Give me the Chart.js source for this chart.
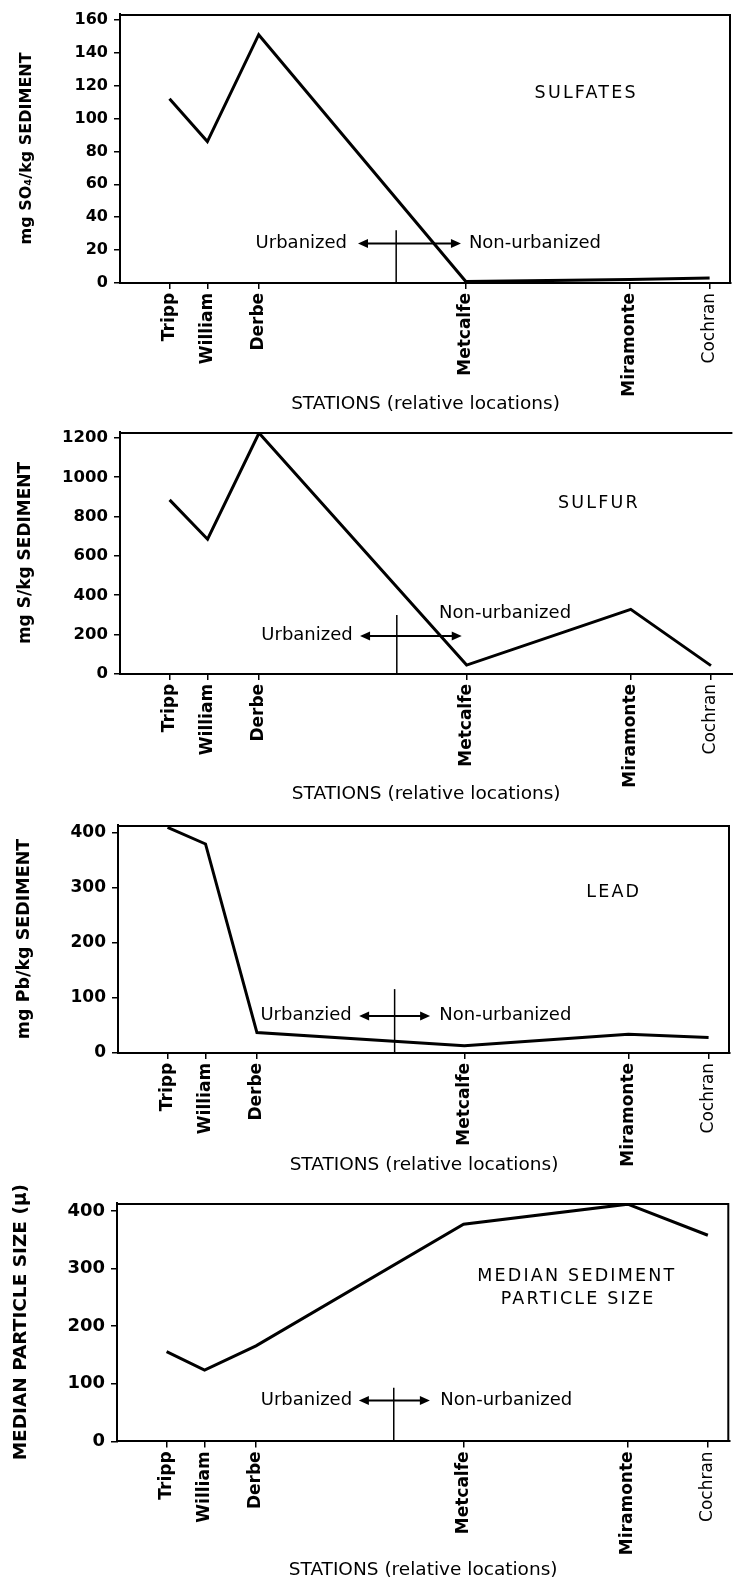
<!DOCTYPE html>
<html>
<head>
<meta charset="utf-8">
<script src="https://cdn.jsdelivr.net/npm/chart.js@4.4.1/dist/chart.umd.min.js"></script>
<style>
html,body{margin:0;padding:0;background:#fff;overflow:hidden;width:733px;height:1583px;position:relative;}
canvas{position:absolute;left:0;}
</style>
</head>
<body>
<canvas id="c1"></canvas>
<canvas id="c2"></canvas>
<canvas id="c3"></canvas>
<canvas id="c4"></canvas>
<script>
// ---- data ----
const stations = ['Tripp', 'William', 'Derbe', 'Metcalfe', 'Miramonte', 'Cochran'];
const stationLocations = [8.1, 14.3, 22.7, 56.6, 83.4, 96.5];   // relative locations (0-100)
const urbanBoundary = 45.2;
const sulfates = [112, 86, 151, 0.8, 2, 3];
const sulfur = [885, 685, 1225, 45, 328, 42];
const lead = [410, 380, 37, 13, 34, 28];
const particleSize = [156, 124, 166, 377, 412, 358];
const sulfateTicks = [0, 20, 40, 60, 80, 100, 120, 140, 160];
const sulfurTicks = [0, 200, 400, 600, 800, 1000, 1200];
const leadTicks = [0, 100, 200, 300, 400];
const particleTicks = [0, 100, 200, 300, 400];

const FONT = '"DejaVu Sans", "Liberation Sans", Arial, sans-serif';

// ---- annotation plugin (frame, boundary marker, labels) ----
const annotate = {
  id: 'annotate',
  afterDraw(chart, args, o) {
    const {ctx, chartArea: a, scales: {x, y}} = chart;
    ctx.save();
    ctx.strokeStyle = '#000';
    ctx.fillStyle = '#000';
    ctx.lineWidth = 2;
    ctx.beginPath();
    ctx.moveTo(a.left, a.top + 1); ctx.lineTo(a.right, a.top + 1);
    if (o.rightBorder) { ctx.moveTo(a.right - 1, a.top); ctx.lineTo(a.right - 1, a.bottom); }
    ctx.stroke();
    // boundary line
    const dx = x.getPixelForValue(urbanBoundary);
    ctx.lineWidth = 1.5;
    ctx.beginPath();
    ctx.moveTo(dx, y.getPixelForValue(o.divTop));
    ctx.lineTo(dx, y.getPixelForValue(0));
    ctx.stroke();
    // double arrow
    const ay = y.getPixelForValue(o.arrowY);
    const al = x.getPixelForValue(o.arrowL);
    const ar = x.getPixelForValue(o.arrowR);
    ctx.lineWidth = 2;
    ctx.beginPath(); ctx.moveTo(al + 6, ay); ctx.lineTo(ar - 6, ay); ctx.stroke();
    ctx.beginPath(); ctx.moveTo(al, ay); ctx.lineTo(al + 10, ay - 4.5); ctx.lineTo(al + 10, ay + 4.5); ctx.closePath(); ctx.fill();
    ctx.beginPath(); ctx.moveTo(ar, ay); ctx.lineTo(ar - 10, ay - 4.5); ctx.lineTo(ar - 10, ay + 4.5); ctx.closePath(); ctx.fill();
    // texts
    ctx.font = '18px ' + FONT;
    ctx.textBaseline = 'middle';
    ctx.textAlign = 'right';
    ctx.fillText(o.urbanLabel, x.getPixelForValue(o.urbX), y.getPixelForValue(o.urbY));
    ctx.textAlign = 'left';
    ctx.fillText('Non-urbanized', x.getPixelForValue(o.nonX), y.getPixelForValue(o.nonY));
    ctx.font = '17.5px ' + FONT;
    try { ctx.letterSpacing = '2.2px'; } catch (e) {}
    ctx.textAlign = 'center';
    o.title.forEach((t, i) => ctx.fillText(t, x.getPixelForValue(o.titleX[i]), y.getPixelForValue(o.titleY[i])));
    ctx.restore();
  }
};

// ---- panel layout / styling ----
const panels = [
  {id: 'c1', values: sulfates, ticks: sulfateTicks, yMax: 163.6, yTitle: 'mg SO\u2084/kg SEDIMENT',
   box: {left: 120, right: 731, top: 14, bottom: 283}, xTitleY: 404, yTitleSize: 16, yTitlePad: 17, yTickSize: 16,
   ann: {urbanLabel: 'Urbanized', urbX: 37.15, urbY: 24.3, arrowY: 24, arrowL: 38.95, arrowR: 55.8, nonX: 57.1, nonY: 24.3,
         divTop: 32, title: ['SULFATES'], titleX: [76.3], titleY: [115], rightBorder: true}},
  {id: 'c2', values: sulfur, ticks: sulfurTicks, yMax: 1230, yTitle: 'mg S/kg SEDIMENT',
   box: {left: 120, right: 732.4, top: 432, bottom: 674}, xTitleY: 794, yTitleSize: 17, yTitlePad: 15, yTickSize: 16.5,
   ann: {urbanLabel: 'Urbanized', urbX: 38.0, urbY: 198, arrowY: 193, arrowL: 39.2, arrowR: 55.8, nonX: 52.1, nonY: 310,
         divTop: 300, title: ['SULFUR'], titleX: [78.2], titleY: [869], rightBorder: false}},
  {id: 'c3', values: lead, ticks: leadTicks, yMax: 414.5, yTitle: 'mg Pb/kg SEDIMENT',
   box: {left: 118, right: 730, top: 825, bottom: 1053}, xTitleY: 1165, yTitleSize: 17.5, yTitlePad: 14, yTickSize: 17,
   ann: {urbanLabel: 'Urbanzied', urbX: 38.2, urbY: 69, arrowY: 67, arrowL: 39.4, arrowR: 51, nonX: 52.5, nonY: 69,
         divTop: 116, title: ['LEAD'], titleX: [81], titleY: [291], rightBorder: true}},
  {id: 'c4', values: particleSize, ticks: particleTicks, yMax: 414, yTitle: 'MEDIAN PARTICLE SIZE (\u03bc)',
   box: {left: 117, right: 729.3, top: 1203, bottom: 1441.5}, xTitleY: 1570, yTitleSize: 18.5, yTitlePad: 10, yTickSize: 18,
   ann: {urbanLabel: 'Urbanized', urbX: 38.4, urbY: 71, arrowY: 71, arrowL: 39.5, arrowR: 51.1, nonX: 52.8, nonY: 71,
         divTop: 93, title: ['MEDIAN SEDIMENT', 'PARTICLE SIZE'], titleX: [75.1, 75.3], titleY: [286, 246], rightBorder: true}}
];

const PADTOP = 20, W = 780, XTITLE_SIZE = 18.5;

function makeChart(p) {
  const canvas = document.getElementById(p.id);
  const lineH = XTITLE_SIZE * 1.2;
  const xAxisH = p.xTitleY + lineH / 2 - p.box.bottom;
  const H = Math.round(PADTOP + (p.box.bottom - p.box.top) + xAxisH);
  canvas.width = W; canvas.height = H;
  canvas.style.width = W + 'px'; canvas.style.height = H + 'px';
  canvas.style.top = (p.box.top - PADTOP) + 'px';
  return new Chart(canvas, {
    type: 'line',
    data: {
      datasets: [{
        data: stationLocations.map((lx, i) => ({x: lx, y: p.values[i]})),
        borderColor: '#000', borderWidth: 3, pointRadius: 0, tension: 0, fill: false,
        borderJoinStyle: 'miter'
      }]
    },
    options: {
      responsive: false, animation: false, events: [], devicePixelRatio: 1,
      layout: {padding: {top: PADTOP, left: 0, right: W - p.box.right, bottom: 0}},
      plugins: {legend: {display: false}, tooltip: {enabled: false}, annotate: p.ann},
      scales: {
        x: {
          type: 'linear', min: 0, max: 100,
          afterFit: s => { s.height = xAxisH; },
          afterBuildTicks: s => { s.ticks = stationLocations.map(v => ({value: v})); },
          ticks: {
            autoSkip: false, minRotation: 90, maxRotation: 90, padding: 4, color: '#000',
            font: c => ({family: FONT, size: 17, weight: (stations[c.index] === 'Cochran') ? 'normal' : 'bold'}),
            callback: (v, i) => stations[i]
          },
          grid: {drawOnChartArea: false, drawTicks: true, tickLength: 6, color: '#000', lineWidth: 1.5},
          border: {display: true, color: '#000', width: 2},
          title: {display: true, text: 'STATIONS (relative locations)', color: '#000',
                  font: {family: FONT, size: XTITLE_SIZE}, padding: {top: 0, bottom: 0}}
        },
        y: {
          type: 'linear', min: 0, max: p.yMax,
          afterFit: s => { s.width = p.box.left; },
          afterBuildTicks: s => { s.ticks = p.ticks.map(v => ({value: v})); },
          ticks: {padding: 6, color: '#000', font: {family: FONT, size: p.yTickSize, weight: 'bold'},
                  callback: v => String(v)},
          grid: {drawOnChartArea: false, drawTicks: true, tickLength: 6, color: '#000', lineWidth: 1.5},
          border: {display: true, color: '#000', width: 2},
          title: {display: true, text: p.yTitle, color: '#000',
                  font: {family: FONT, size: p.yTitleSize, weight: 'bold'}, padding: {top: p.yTitlePad, bottom: 0}}
        }
      }
    },
    plugins: [annotate]
  });
}

panels.forEach(makeChart);
</script>
</body>
</html>
